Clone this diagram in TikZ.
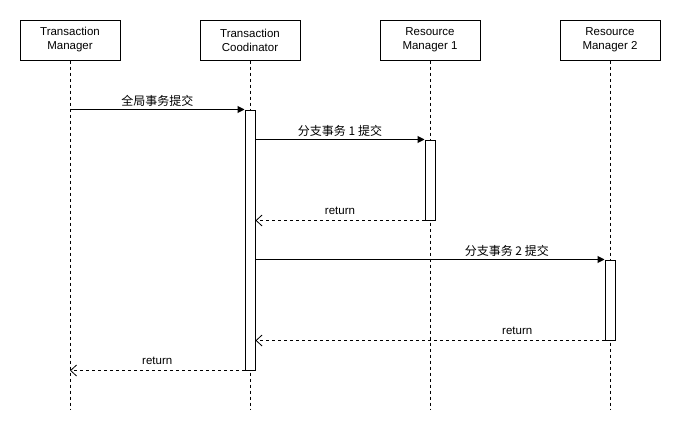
\documentclass[tikz,border=0pt]{standalone}
\usepackage{fontspec}
\setmainfont{Liberation Sans}
\newfontfamily\cjk{Noto Sans CJK SC}
\usetikzlibrary{arrows.meta}

\tikzset{
  actor/.style={draw,line width=1pt,minimum width=100pt,minimum height=40pt,
                align=center,inner sep=0pt},
  life/.style={line width=0.8pt,dash pattern=on 3pt off 3pt},
  act/.style={draw,fill=white,line width=1pt,minimum width=10pt,inner sep=0pt},
  msg/.style={line width=1pt,-{Triangle[length=7pt,width=7pt]}},
  ret/.style={line width=0.8pt,dash pattern=on 3pt off 3pt,
              -{Straight Barb[length=6pt,width=11pt]}},
  lbl/.style={above=2pt,inner sep=1pt},
  rlbl/.style={above=4pt,inner sep=1pt}
}

\begin{document}
\begin{tikzpicture}[x=1pt,y=-1pt,font=\fontsize{11.5}{14}\selectfont]
  \useasboundingbox (0,0) rectangle (681,431);

  % participants
  \node[actor] (tm)  at (70,40)  {Transaction\\Manager};
  \node[actor] (tc)  at (250,40) {Transaction\\Coodinator};
  \node[actor] (rm1) at (430,40) {Resource\\Manager 1};
  \node[actor] (rm2) at (610,40) {Resource\\Manager 2};

  % lifelines
  \foreach \p in {tm,tc,rm1,rm2}
  { \coordinate (\p end) at (\p.south |- 0,410);
    \draw[life] (\p.south) -- (\p end);
  }

  % activations
  \node[act,minimum height=260pt] (tcact)  at (250,240) {};
  \node[act,minimum height=80pt]  (rm1act) at (430,180) {};
  \node[act,minimum height=80pt]  (rm2act) at (610,300) {};

  % messages
  \draw[msg] (tm.south |- tcact.north) -- (tcact.north west)
        node[lbl,midway] {\cjk\fontsize{12}{14}\selectfont 全局事务提交};
  \draw[msg] (tcact.east |- rm1act.north) -- (rm1act.north west)
        node[lbl,midway] {\cjk\fontsize{12}{14}\selectfont 分支事务 1 提交};
  \draw[ret] (rm1act.south west) -- (tcact.east |- rm1act.south)
        node[rlbl,midway] {return};
  \draw[msg] (tcact.east |- rm2act.north) -- (rm2act.north west)
        node[lbl,pos=0.72] {\cjk\fontsize{12}{14}\selectfont 分支事务 2 提交};
  \draw[ret] (rm2act.south west) -- (tcact.east |- rm2act.south)
        node[rlbl,pos=0.25] {return};
  \draw[ret] (tcact.south west) -- (tm.south |- tcact.south)
        node[rlbl,midway] {return};
\end{tikzpicture}
\end{document}
